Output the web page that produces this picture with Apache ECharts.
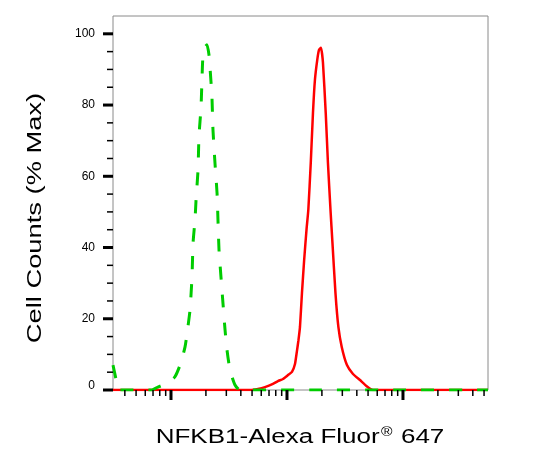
<!DOCTYPE html>
<html>
<head>
<meta charset="utf-8">
<script src="https://cdn.jsdelivr.net/npm/echarts@6/dist/echarts.min.js"></script>
<style>
html,body{margin:0;padding:0;background:#fff;}
#chart{width:535px;height:459px;}
</style>
</head>
<body>
<div id="chart"></div>
<script>
// x values are log10 of fluorescence intensity (decades); y values are % of max
const xRange = [1.5, 4.733];
const yRange = [0, 105];

const greenLogX = [1.5, 1.526, 1.543, 1.647, 1.776, 1.836, 1.879, 1.931, 1.991, 2.034, 2.078, 2.121, 2.147, 2.164, 2.181, 2.190, 2.207, 2.216, 2.233, 2.241, 2.259, 2.267, 2.276, 2.293, 2.310, 2.328, 2.336, 2.353, 2.362, 2.379, 2.397, 2.405, 2.414, 2.431, 2.448, 2.466, 2.483, 2.509, 2.552, 2.595, 3.2, 4.0, 4.733];
const greenY    = [7.0, 3.0, 0, 0, 0, 0, 0.7, 1.4, 2.5, 3.7, 7.0, 12.1, 18, 22.5, 31.7, 41.2, 47.8, 53.4, 61.8, 71.1, 79.5, 87.1, 94.1, 96.3, 96.9, 94, 90.7, 82.3, 73.0, 63.8, 55.3, 47.8, 39.3, 31.7, 24.4, 16.9, 11.2, 5.6, 1.4, 0, 0, 0, 0];

const redLogX = [1.5, 2.2, 2.681, 2.750, 2.810, 2.879, 2.922, 2.966, 3.009, 3.043, 3.069, 3.086, 3.099, 3.112, 3.129, 3.148, 3.168, 3.184, 3.205, 3.224, 3.241, 3.261, 3.276, 3.293, 3.310, 3.334, 3.353, 3.375, 3.392, 3.418, 3.443, 3.472, 3.517, 3.569, 3.629, 3.690, 3.741, 4.2, 4.733];
const redY    = [0, 0, 0, 0.3, 0.8, 1.7, 2.5, 3.1, 4.2, 5.1, 7.3, 11, 14, 17.7, 27.2, 36.5, 44.9, 50.6, 63.8, 77.8, 87.1, 92.7, 95.5, 96.1, 92.0, 77.8, 63.8, 50.6, 41.3, 27.2, 17.7, 12.1, 7.0, 4.5, 2.8, 1.0, 0, 0, 0];

const yTickLabels = [0, 20, 40, 60, 80, 100];
const yMinorTicks = [5, 10, 15, 25, 30, 35, 45, 50, 55, 65, 70, 75, 85, 90, 95];
const xMajorTicks = [100, 1000, 10000];
const xMinorTicks = [40, 50, 60, 70, 80, 90, 200, 300, 400, 500, 600, 700, 800, 900, 2000, 3000, 4000, 5000, 6000, 7000, 8000, 9000, 20000, 30000, 40000, 50000];

const xTitle = 'NFKB1-Alexa Fluor';
const xTitleSup = '®';
const xTitleTail = ' 647';
const yTitle = 'Cell Counts (% Max)';

const zip = (xs, ys) => xs.map((x, i) => [x, ys[i]]);

const tickData = [];
yTickLabels.forEach(v => tickData.push([0, v, 1]));
yMinorTicks.forEach(v => tickData.push([0, v, 0]));
xMajorTicks.forEach(v => tickData.push([1, Math.log10(v), 1]));
xMinorTicks.forEach(v => tickData.push([1, Math.log10(v), 0]));

const chart = echarts.init(document.getElementById('chart'), null, {renderer: 'canvas'});
const FONT = '"Liberation Sans", Arial, sans-serif';

chart.setOption({
  animation: false,
  backgroundColor: '#fff',
  grid: {left: 113, right: 47, top: 16, bottom: 69, show: true, borderColor: '#8a8a8a', borderWidth: 1, backgroundColor: 'transparent'},
  xAxis: {
    type: 'value', min: xRange[0], max: xRange[1],
    axisLine: {show: false}, axisTick: {show: false}, axisLabel: {show: false}, splitLine: {show: false}
  },
  yAxis: {
    type: 'value', min: yRange[0], max: yRange[1], interval: 5,
    axisLine: {show: false}, axisTick: {show: false}, splitLine: {show: false},
    axisLabel: {
      margin: 18, color: '#000', fontFamily: FONT, fontSize: 12,
      formatter: v => (yTickLabels.indexOf(v) >= 0 ? (v === 0 ? '{z|0}' : String(v)) : ''),
      rich: {z: {fontFamily: FONT, fontSize: 12, color: '#000', padding: [0, 0, 9, 0]}}
    }
  },
  graphic: [
    {
      type: 'text', x: 300, y: 437, scaleX: 1.3, scaleY: 1,
      style: {
        text: xTitle + '{sup|' + xTitleSup + '}' + xTitleTail,
        font: '20px ' + FONT, fill: '#000', align: 'center', verticalAlign: 'middle',
        rich: {sup: {fontSize: 12, fontFamily: FONT, fill: '#000', verticalAlign: 'top', padding: [0, 1, 8, 1]}}
      }
    },
    {
      type: 'text', x: 35, y: 218, rotation: Math.PI / 2, scaleX: 1.3, scaleY: 1,
      style: {text: yTitle, font: '21px ' + FONT, fill: '#000', align: 'center', verticalAlign: 'middle'}
    }
  ],
  series: [
    {
      type: 'line', data: zip(redLogX, redY), showSymbol: false, smooth: 0.15, z: 3,
      lineStyle: {color: '#ff0000', width: 2.5}
    },
    {
      type: 'line', data: zip(greenLogX, greenY), showSymbol: false, smooth: 0.2, z: 4,
      lineStyle: {color: '#00cc00', width: 3, type: [13, 15]}
    },
    {
      type: 'custom', clip: false, z: 5, silent: true,
      data: tickData,
      renderItem: function (params, api) {
        const axis = api.value(0), val = api.value(1), major = api.value(2);
        const len = major ? 10 : 6;
        const w = major ? 3 : 1.5;
        let shape;
        if (axis === 0) {
          const p = api.coord([xRange[0], val]);
          shape = {x1: p[0] - len, y1: p[1], x2: p[0], y2: p[1]};
        } else {
          const p = api.coord([val, yRange[0]]);
          shape = {x1: p[0], y1: p[1], x2: p[0], y2: p[1] + len};
        }
        return {type: 'line', shape: shape, style: {stroke: '#000', lineWidth: w}};
      }
    }
  ]
});
</script>
</body>
</html>
